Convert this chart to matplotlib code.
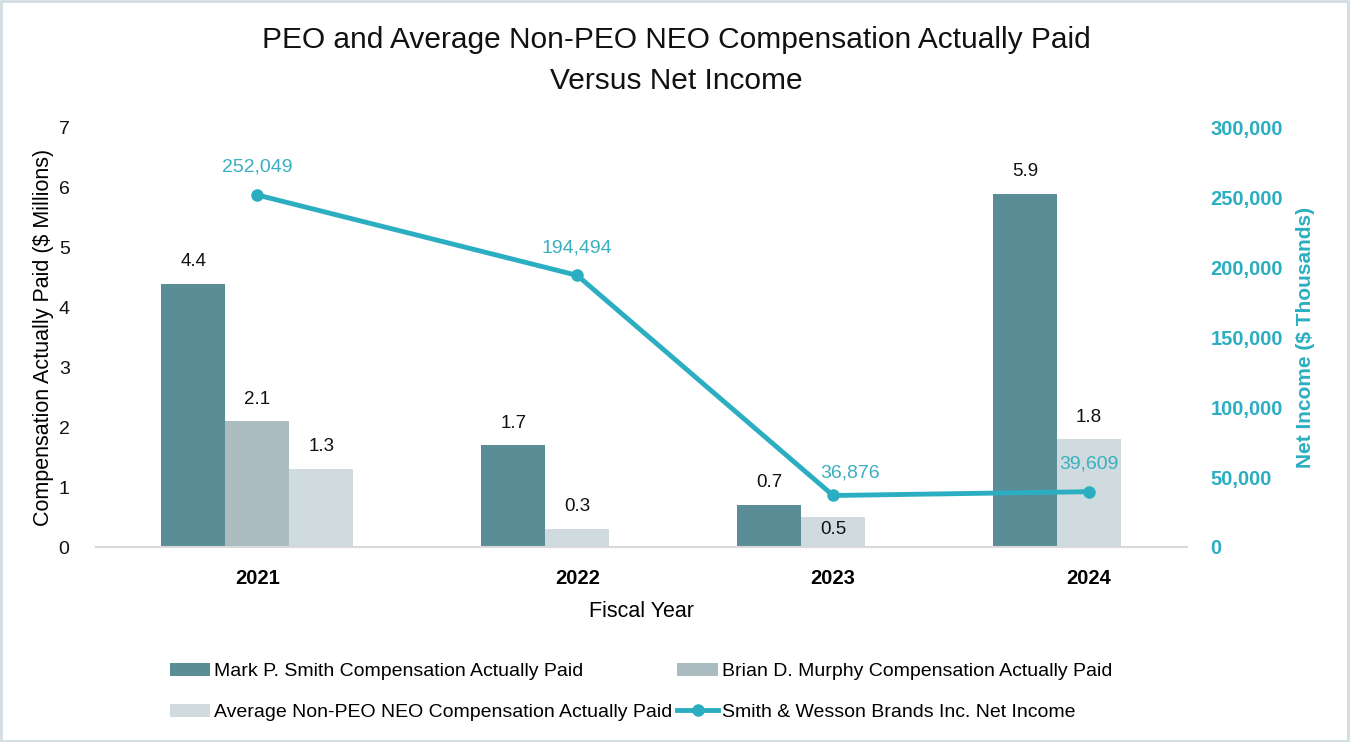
import numpy as np
import matplotlib
matplotlib.use("Agg")
import matplotlib.pyplot as plt
from matplotlib.ticker import FuncFormatter
from matplotlib.patches import Rectangle

plt.rcParams['font.family'] = ['Liberation Sans', 'DejaVu Sans']

# ---- data ----
years = ["2021", "2022", "2023", "2024"]
smith = [4.4, 1.7, 0.7, 5.9]
murphy = [2.1, np.nan, np.nan, np.nan]
avg_neo = [1.3, 0.3, 0.5, 1.8]
net_income = [252049, 194494, 36876, 39609]

series_names = ["Mark P. Smith Compensation Actually Paid",
                "Brian D. Murphy Compensation Actually Paid",
                "Average Non-PEO NEO Compensation Actually Paid",
                "Smith & Wesson Brands Inc. Net Income"]

# ---- layout (in bar-width units, as in the reference) ----
cat_pos = np.array([0, 5, 9, 13], dtype=float)
smith_off = np.array([-1, -1, -1, -1], dtype=float)
murphy_off = np.array([0, 0, 0, 0], dtype=float)
avg_off = np.array([1, 0, 0, 0], dtype=float)

c_smith = "#5A8D96"
c_murphy = "#ABBCC0"
c_avg = "#CFDBDF"
c_line = "#2BAEC1"
c_lbl = "#3AAFC0"

W, H = 1352, 742
fig = plt.figure(figsize=(W / 100, H / 100), dpi=100)
fig.patches.append(Rectangle((0.001, 0.002), 0.996, 0.996, transform=fig.transFigure,
                             fill=False, edgecolor="#D3DEE2", linewidth=2))

left, right = 96 / W, 1187 / W
bottom, top = 1 - 547 / H, 1 - 128 / H
ax = fig.add_axes([left, bottom, right - left, top - bottom])
ax2 = ax.twinx()

bw = 1.0
b1 = ax.bar(cat_pos + smith_off, smith, width=bw, color=c_smith, label=series_names[0])
b2 = ax.bar(cat_pos + murphy_off, murphy, width=bw, color=c_murphy, label=series_names[1])
b3 = ax.bar(cat_pos + avg_off, avg_neo, width=bw, color=c_avg, label=series_names[2])

def bar_labels(xs, vals, inside=None):
    for i, (x, v) in enumerate(zip(xs, vals)):
        if np.isnan(v):
            continue
        dy = 16
        if inside is not None and inside[i]:
            dy = -9
        ax.annotate(f"{v:.1f}", (x, v), xytext=(0, dy), textcoords="offset points",
                    ha="center", va="center", fontsize=13.5, color="#111111")

bar_labels(cat_pos + smith_off, smith)
bar_labels(cat_pos + murphy_off, murphy)
bar_labels(cat_pos + avg_off, avg_neo, inside=[False, False, True, False])

ax.set_xlim(-2.52, 14.53)
ax.set_ylim(0, 7)
ax.set_yticks(range(0, 8))
ax.set_xticks(cat_pos)
ax.set_xticklabels(years, fontweight="bold", fontsize=14.5)
ax.tick_params(axis="x", length=0, pad=16)
ax.tick_params(axis="y", length=0, labelsize=14, pad=19, colors="#111111")
for s in ["top", "right", "left"]:
    ax.spines[s].set_visible(False)
ax.spines["bottom"].set_color("#D9D9D9")
ax.spines["bottom"].set_linewidth(1.5)
ax.set_ylabel("Compensation Actually Paid ($ Millions)", fontsize=15.5, labelpad=3)
ax.set_xlabel("Fiscal Year", fontsize=15.5, labelpad=9)

ln, = ax2.plot(cat_pos, net_income, color=c_line, linewidth=3.5, marker="o",
               markersize=8, label=series_names[3], zorder=5)
lbl_offsets = [(0, 20), (0, 20), (12, 16), (0, 20)]
for x, v, off in zip(cat_pos, net_income, lbl_offsets):
    ax2.annotate(f"{v:,}", (x, v), xytext=off, textcoords="offset points",
                 ha="center", va="center", fontsize=14, color=c_lbl)
ax2.set_ylim(0, 300000)
ax2.set_yticks(range(0, 300001, 50000))
ax2.yaxis.set_major_formatter(FuncFormatter(lambda v, p: f"{int(v):,}"))
ax2.tick_params(axis="y", length=0, labelsize=14.5, colors=c_line, pad=17)
for t in ax2.get_yticklabels():
    t.set_fontweight("bold")
for s in ["top", "right", "left", "bottom"]:
    ax2.spines[s].set_visible(False)
ax2.set_ylabel("Net Income ($ Thousands)", fontsize=15, fontweight="bold",
               color=c_line, labelpad=9)

fig.text(0.5, 1 - 40 / H, "PEO and Average Non-PEO NEO Compensation Actually Paid",
         ha="center", va="center", fontsize=21.5, color="#111111")
fig.text(0.5, 1 - 81 / H, "Versus Net Income",
         ha="center", va="center", fontsize=21.5, color="#111111")

# row-major order like the reference: column 1 = Smith, Average; column 2 = Murphy, Net Income
handles = [b1, b3, b2, ln]
labels = [series_names[0], series_names[2], series_names[1], series_names[3]]
leg = fig.legend(handles, labels, ncol=2, loc="center left",
                 bbox_to_anchor=(152 / W, 1 - 692 / H), frameon=False,
                 fontsize=14, handlelength=2.1, handletextpad=0.2,
                 columnspacing=0.25, labelspacing=1.2)

fig.savefig("out.png", dpi=100)
